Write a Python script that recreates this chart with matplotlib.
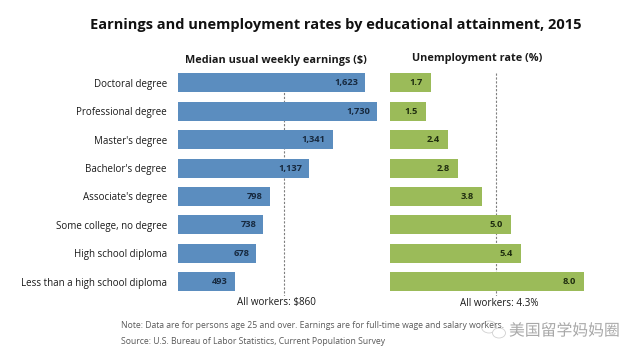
import matplotlib
matplotlib.use('Agg')
import matplotlib.pyplot as plt
from matplotlib.patches import Ellipse
import matplotlib.patheffects as pe

categories = ['Doctoral degree', 'Professional degree', "Master's degree", "Bachelor's degree",
              "Associate's degree", 'Some college, no degree', 'High school diploma',
              'Less than a high school diploma']
earnings = [1623, 1730, 1341, 1137, 798, 738, 678, 493]
unemployment = [1.7, 1.5, 2.4, 2.8, 3.8, 5.0, 5.4, 8.0]
earnings_labels = ['1,623', '1,730', '1,341', '1,137', '798', '738', '678', '493']
unemployment_labels = ['1.7', '1.5', '2.4', '2.8', '3.8', '5.0', '5.4', '8.0']

# dashed lines do not sit exactly on 860 / 4.3 in the picture, these are read off it
earnings_line = 923
unemployment_line = 4.38

W, H = 640, 358
plt.rcParams['font.family'] = ['Open Sans', 'DejaVu Sans']
blue = '#5b8dbf'
green = '#9bbb59'
text_col = '#1a1a1a'
grey = '#595959'
line_col = '#7f7f7f'
bar_h = 0.67

fig = plt.figure(figsize=(W / 100, H / 100), dpi=100)


def panel(x0, x1, y0, y1):
    return fig.add_axes([x0 / W, 1 - y1 / H, (x1 - x0) / W, (y1 - y0) / H])


ax1 = panel(178, 380, 68.5, 296)
ax2 = panel(389.7, 590, 68.5, 296)

ypos = list(range(len(categories)))

ax1.barh(ypos, earnings, height=bar_h, color=blue, zorder=2)
ax1.set_xlim(0, 202 / 0.1153)
ax1.set_ylim(7.5, -0.5)
ax1.vlines(earnings_line, -bar_h / 2, 7.5, color=line_col, lw=0.8, ls=(0, (2, 1.5)), zorder=1)
ax1.set_yticks(ypos)
ax1.set_yticklabels(categories, fontsize=7, color=text_col)
ax1.tick_params(axis='y', length=0, pad=8)
ax1.set_xticks([])

ax2.barh(ypos, unemployment, height=bar_h, color=green, zorder=2)
ax2.set_xlim(0, 200.3 / 24.3)
ax2.set_ylim(7.5, -0.5)
ax2.vlines(unemployment_line, -bar_h / 2, 7.5, color=line_col, lw=0.8, ls=(0, (2, 1.5)), zorder=1)
ax2.set_yticks([])
ax2.set_xticks([])

for ax in (ax1, ax2):
    for s in ax.spines.values():
        s.set_visible(False)

for i in ypos:
    ax1.annotate(earnings_labels[i], (earnings[i], i), xytext=(-5, 0), textcoords='offset points',
                 ha='right', va='center', fontsize=6.7, fontweight='bold', color='#17293f', zorder=3)
    ax2.annotate(unemployment_labels[i], (unemployment[i], i), xytext=(-6, 0), textcoords='offset points',
                 ha='right', va='center', fontsize=6.7, fontweight='bold', color='#1f2d0f', zorder=3)


def ftext(x, y, s, **kw):
    return fig.text(x / W, 1 - y / H, s, va='center', **kw)


ftext(336, 25, 'Earnings and unemployment rates by educational attainment, 2015', ha='center',
      fontsize=10.55, fontweight='bold', color='#111111')
ftext(276, 60, 'Median usual weekly earnings ($)', ha='center', fontsize=7.8, fontweight='bold', color=text_col)
ftext(477, 58, 'Unemployment rate (%)', ha='center', fontsize=7.8, fontweight='bold', color=text_col)
ftext(276, 303, 'All workers: $860', ha='center', fontsize=7.15, color=text_col)
ftext(499.5, 303, 'All workers: 4.3%', ha='center', fontsize=7.15, color=text_col)
ftext(121, 326, 'Note: Data are for persons age 25 and over. Earnings are for full-time wage and salary workers.',
      ha='left', fontsize=6.25, color=grey)
ftext(121, 341, 'Source: U.S. Bureau of Labor Statistics, Current Population Survey',
      ha='left', fontsize=6.25, color=grey)

# watermark over the note
halo = [pe.withStroke(linewidth=2.5, foreground='white')]
ftext(509, 331, '美国留学妈妈圈', ha='left', fontsize=11.4, color='#a8a8a8',
      family=['Noto Sans CJK SC', 'DejaVu Sans'], path_effects=halo)
fig.add_artist(Ellipse((489 / W, 1 - 327 / H), 15 / W, 12 / H, fc='white', ec='#d0d0d0', lw=0.6,
                       transform=fig.transFigure))
fig.add_artist(Ellipse((499 / W, 1 - 333 / H), 13 / W, 10 / H, fc='white', ec='#d0d0d0', lw=0.6,
                       transform=fig.transFigure))

fig.savefig('out.png', dpi=100)
